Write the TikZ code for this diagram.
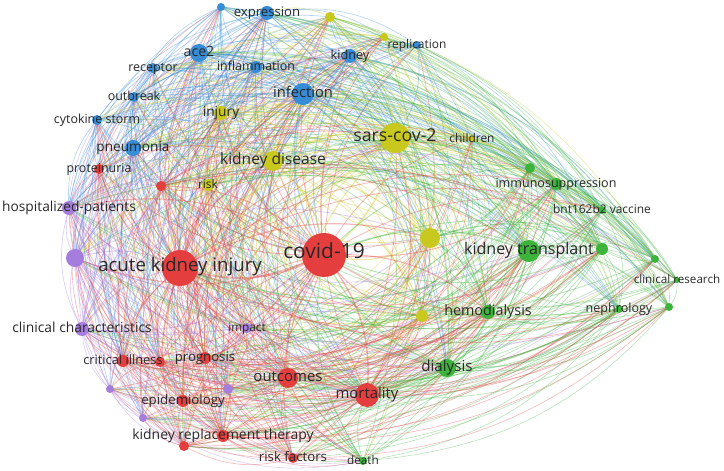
\documentclass[tikz,border=0pt]{standalone}
\usepackage{fontspec}
\setmainfont{Open Sans}
\definecolor{cR}{RGB}{228,62,62}
\definecolor{cG}{RGB}{60,180,60}
\definecolor{cB}{RGB}{55,140,215}
\definecolor{cY}{RGB}{200,200,30}
\definecolor{cP}{RGB}{165,125,220}
\definecolor{cT}{RGB}{40,40,40}
\tikzset{
  edgeline/.style={draw opacity=0.36},
  dot/.style={circle, inner sep=0pt, draw=none},
  lbl/.style={text=cT, inner sep=0pt, anchor=mid, yshift=-0.12em}
}
\begin{document}
\begin{tikzpicture}[x=1bp,y=-1bp]
\useasboundingbox (0,0) rectangle (724,471);
\def\nodelist{blueA/221/7/4/cB,
expression/267/13/7/cB,
ace2/199/53/9/cB,
inflammation/256/67/6/cB,
receptor/153/68/5/cB,
outbreak/134/97/5/cB,
cytokine/97/120/5/cB,
pneumonia/133/148/8/cB,
infection/303/94/11/cB,
kidney/350/56/7/cB,
replication/417/45/4/cB,
yellowA/330/17/5/cY,
yellowB/384/37/4/cY,
injury/221/113/7/cY,
kdisease/273/161/10/cY,
risk/208/185/6/cY,
sars/395/138/15/cY,
children/472/139/3/cY,
yellowC/430/238/10/cY,
yellowD/422/316/6/cY,
greenA/530/168/5/cG,
immuno/556/184/6/cG,
bnt/602/210/4/cG,
ktrans/529/251/11/cG,
greenB/602/249/6/cG,
greenC/655/259/4/cG,
clinres/677/280/3/cG,
greenD/669/307/4/cG,
nephro/619/309/4/cG,
hemo/488/312/7/cG,
dialysis/447/368/9/cG,
death/363/461/4/cG,
covid/324/255/22/cR,
aki/180/268/18/cR,
redA/161/186/5/cR,
proteinuria/99/169/5/cR,
critical/123/361/6/cR,
redB/160/362/5/cR,
prognosis/205/358/6/cR,
outcomes/288/378/10/cR,
mortality/367/395/12/cR,
epidem/183/401/6/cR,
krt/223/436/6/cR,
redC/184/446/5/cR,
riskfac/293/458/5/cR,
hosp/69/208/7/cP,
purpleA/75/258/9/cP,
clinchar/82/329/7/cP,
impact/247/328/5/cP,
purpleB/110/389/4/cP,
purpleC/228/389/5/cP,
purpleD/143/418/4/cP}
\foreach \n/\x/\y/\r/\c in \nodelist { \coordinate (\n) at (\x,\y); }
\pgfmathsetseed{11}
\foreach \a/\ax/\ay/\ar/\ac [count=\i] in \nodelist {
  \foreach \b/\bx/\by/\br/\bc [count=\j] in \nodelist {
    \ifnum\j>\i\relax
      \pgfmathsetmacro\pp{(\ar+\br)/17}
      \pgfmathsetmacro\keep{rnd<\pp ? 1 : 0}
      \ifdim\keep pt>0.5pt
        \pgfmathsetmacro\crs{((\ax-360)/100)*((240-\by)/100)-((240-\ay)/100)*((\bx-360)/100)}
        \pgfmathsetmacro\crs{abs(\crs)<0.6 ? rnd-0.5 : \crs}
        \pgfmathsetmacro\ang{\crs>0 ? -22 : 22}
        \pgfmathsetmacro\pick{rnd<0.5 ? 1 : 0}
        \pgfmathsetmacro\lw{0.55+\ar*\br/300}
        \ifdim\pick pt>0.5pt \def\ec{\ac}\else\def\ec{\bc}\fi
        \draw[edgeline, line width=\lw bp, draw=\ec] (\a) to[bend left=\ang] (\b);
      \fi
    \fi
  }
}
\foreach \n/\x/\y/\r/\c in \nodelist {
  \node[dot, fill=\c, minimum size=2*\r bp] (\n-c) at (\n) {};
}
\foreach \n/\t/\s in {expression/expression/13.2, ace2/ace2/14.2,
  inflammation/inflammation/12.5, receptor/receptor/12.5, outbreak/outbreak/12.5,
  cytokine/cytokine storm/12.5, pneumonia/pneumonia/13.7, proteinuria/proteinuria/12.5,
  hosp/hospitalized-patients/13.8, infection/infection/14.8, injury/injury/13.8,
  kdisease/kidney disease/15.6, risk/risk/12, kidney/kidney/12.7, replication/replication/12,
  sars/sars-cov-2/17.8, children/children/12, immuno/immunosuppression/12.6,
  bnt/bnt162b2 vaccine/12, ktrans/kidney transplant/16.1, clinres/clinical research/11.7,
  nephro/nephrology/12.6, hemo/hemodialysis/14.4, dialysis/dialysis/15.2,
  mortality/mortality/15, outcomes/outcomes/15, death/death/11.8,
  riskfac/risk factors/13.3, krt/kidney replacement therapy/14, epidem/epidemiology/13.3,
  prognosis/prognosis/13.2, critical/critical illness/12.9,
  clinchar/clinical characteristics/13.9, impact/impact/11.8,
  aki/acute kidney injury/18.7, covid/covid-19/21} {
  \node[lbl, font=\fontsize{\s}{\s}\selectfont] (\n-t) at (\n) {\t};
}
\end{tikzpicture}
\end{document}
